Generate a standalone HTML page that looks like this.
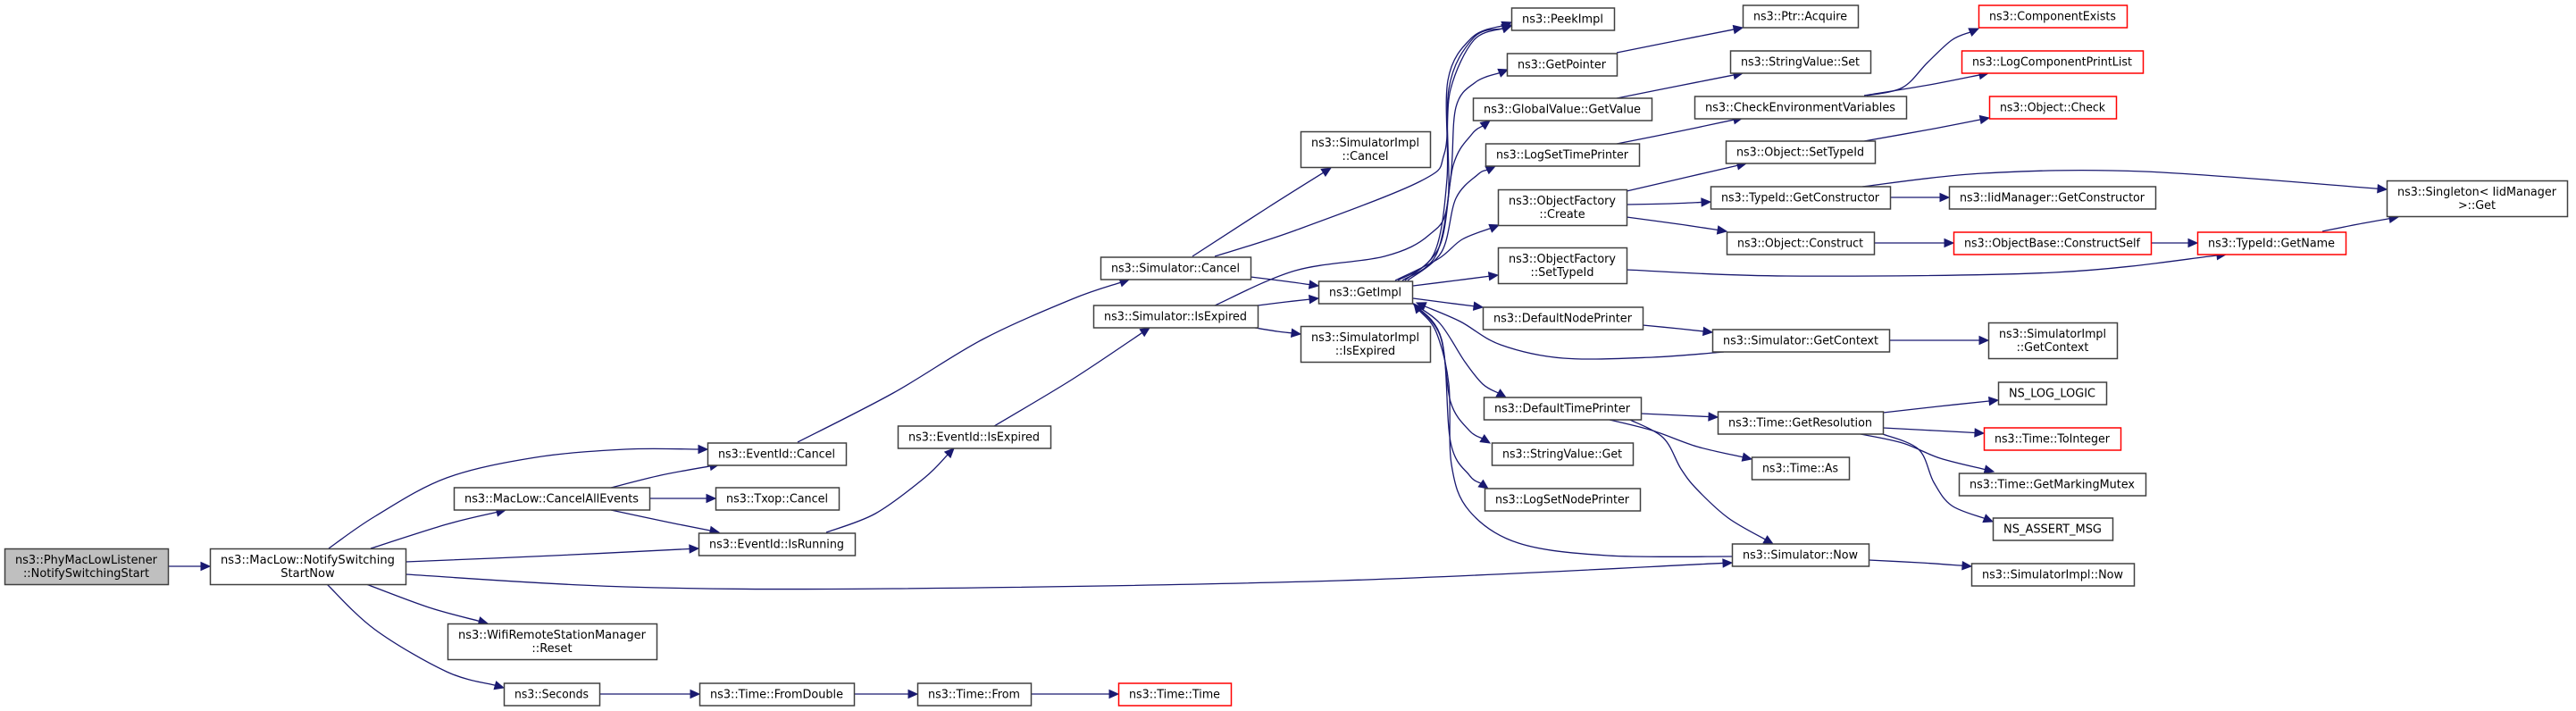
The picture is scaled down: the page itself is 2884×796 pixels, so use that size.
<!DOCTYPE html>
<html><head><meta charset="utf-8"><style>
html,body{margin:0;padding:0;background:#fff;}
svg{display:block;}
text{font-family:"DejaVu Sans","Liberation Sans",sans-serif;font-size:13px;fill:#000;}
</style></head><body>
<svg id="g" xmlns="http://www.w3.org/2000/svg" width="2884" height="796" viewBox="0 0 2884 796">
<rect width="2884" height="796" fill="#fff"/>
<g id="edges"></g><g id="nodes"></g>
</svg>
<script>
var N={
PhyMacLow:[5,188,634,["ns3::PhyMacLowListener","::NotifySwitchingStart"],'g'],
Notify:[235,454,634,["ns3::MacLow::NotifySwitching","StartNow"]],
EvCancel:[792,947,508,["ns3::EventId::Cancel"]],
CancelAll:[508,727,558,["ns3::MacLow::CancelAllEvents"]],
Txop:[801,939,558,["ns3::Txop::Cancel"]],
IsRunning:[782,957,609,["ns3::EventId::IsRunning"]],
WifiReset:[501,735,718,["ns3::WifiRemoteStationManager","::Reset"]],
Seconds:[564,671,777,["ns3::Seconds"]],
EvIsExpired:[1005,1176,489,["ns3::EventId::IsExpired"]],
FromDouble:[783,956,777,["ns3::Time::FromDouble"]],
SimCancel:[1232,1400,300,["ns3::Simulator::Cancel"]],
SimIsExpired:[1224,1408,354,["ns3::Simulator::IsExpired"]],
TimeFrom:[1027,1154,777,["ns3::Time::From"]],
TimeTime:[1252,1378,777,["ns3::Time::Time"],'r'],
SimImplCancel:[1456,1601,167,["ns3::SimulatorImpl","::Cancel"]],
SimImplIsExpired:[1456,1601,385,["ns3::SimulatorImpl","::IsExpired"]],
GetImpl:[1476,1581,327,["ns3::GetImpl"]],
PeekImpl:[1692,1807,21,["ns3::PeekImpl"]],
GetPointer:[1687,1810,72,["ns3::GetPointer"]],
GlobalGetValue:[1649,1849,122,["ns3::GlobalValue::GetValue"]],
LogSetTimePrinter:[1663,1835,173,["ns3::LogSetTimePrinter"]],
OFCreate:[1677,1821,232,["ns3::ObjectFactory","::Create"]],
OFSetTypeId:[1677,1821,297,["ns3::ObjectFactory","::SetTypeId"]],
DefNodePrinter:[1660,1839,356,["ns3::DefaultNodePrinter"]],
DefTimePrinter:[1661,1837,457,["ns3::DefaultTimePrinter"]],
SVGet:[1670,1828,508,["ns3::StringValue::Get"]],
LogSetNodePrinter:[1662,1836,559,["ns3::LogSetNodePrinter"]],
PtrAcquire:[1951,2080,18,["ns3::Ptr::Acquire"]],
SVSet:[1937,2094,69,["ns3::StringValue::Set"]],
CheckEnv:[1897,2134,120,["ns3::CheckEnvironmentVariables"]],
ObjSetTypeId:[1932,2099,170,["ns3::Object::SetTypeId"]],
TIGetCtor:[1915,2116,221,["ns3::TypeId::GetConstructor"]],
ObjConstruct:[1933,2098,272,["ns3::Object::Construct"]],
SimGetContext:[1917,2115,381,["ns3::Simulator::GetContext"]],
TimeGetRes:[1923,2108,473,["ns3::Time::GetResolution"]],
TimeAs:[1961,2070,524,["ns3::Time::As"]],
SimNow:[1939,2092,621,["ns3::Simulator::Now"]],
ComponentExists:[2215,2381,18,["ns3::ComponentExists"],'r'],
LogCompPrint:[2196,2399,69,["ns3::LogComponentPrintList"],'r'],
ObjCheck:[2227,2369,120,["ns3::Object::Check"],'r'],
Singleton:[2672,2874,222,["ns3::Singleton< IidManager"," >::Get"]],
IidGetCtor:[2182,2413,221,["ns3::IidManager::GetConstructor"]],
ConstructSelf:[2187,2408,272,["ns3::ObjectBase::ConstructSelf"],'r'],
TIGetName:[2460,2626,272,["ns3::TypeId::GetName"],'r'],
SimImplGetContext:[2226,2370,381,["ns3::SimulatorImpl","::GetContext"]],
NSLOGLOGIC:[2237,2358,440,["NS_LOG_LOGIC"]],
ToInteger:[2221,2374,491,["ns3::Time::ToInteger"],'r'],
MarkingMutex:[2193,2402,542,["ns3::Time::GetMarkingMutex"]],
NSASSERT:[2231,2365,592,["NS_ASSERT_MSG"]],
SimImplNow:[2207,2389,643,["ns3::SimulatorImpl::Now"]]
};
function box(k){var n=N[k],h=n[3].length>1?40:25;return {x1:n[0],x2:n[1],cy:n[2],t:n[2]-h/2,b:n[2]+h/2,h:h};}
var E=[
['PhyMacLow','Notify'],
['Notify','EvCancel',[[368,614],[420,578],[500,535],[600,512],[700,503],[792,503]]],
['Notify','CancelAll',[[415,614],[500,587],[566,571]]],
['Notify','IsRunning',[[454,629],[620,622],[782,614]]],
['Notify','SimNow',[[454,643],[700,657],[1000,659],[1500,650],[1939,630]]],
['Notify','WifiReset',[[410,654],[480,680],[546,698]]],
['Notify','Seconds',[[366,654],[420,705],[500,752],[564,770]]],
['CancelAll','EvCancel',[[684,546],[740,532],[805,520]]],
['CancelAll','Txop'],
['CancelAll','IsRunning',[[684,571],[745,584],[805,596]]],
['EvCancel','SimCancel',[[893,495],[1000,440],[1100,380],[1200,335],[1264,313]]],
['IsRunning','EvIsExpired',[[925,596],[980,575],[1035,535],[1068,502]]],
['EvIsExpired','SimIsExpired',[[1113,477],[1200,425],[1287,367]]],
['Seconds','FromDouble'],['FromDouble','TimeFrom'],['TimeFrom','TimeTime'],
['SimCancel','SimImplCancel',[[1335,287],[1420,232],[1490,188]]],
['SimCancel','PeekImpl',[[1360,287],[1450,258],[1590,203],[1617,172],[1624,100],[1650,45],[1692,28]]],
['SimCancel','GetImpl',[[1400,310],[1440,315],[1476,320]]],
['SimIsExpired','PeekImpl',[[1360,342],[1450,303],[1550,287],[1600,263],[1621,225],[1622,100],[1650,42],[1692,29]]],
['SimIsExpired','GetImpl',[[1408,342],[1440,338],[1476,334]]],
['SimIsExpired','SimImplIsExpired',[[1405,367],[1430,371],[1456,374]]],
['GetImpl','PeekImpl',[[1565,314],[1605,285],[1620,200],[1621,90],[1648,42],[1692,25]]],
['GetImpl','GetPointer',[[1570,314],[1608,285],[1624,200],[1630,120],[1652,92],[1688,78]]],
['GetImpl','GlobalGetValue',[[1573,314],[1612,275],[1627,185],[1648,150],[1668,135]]],
['GetImpl','LogSetTimePrinter',[[1576,314],[1614,282],[1630,222],[1655,195],[1674,186]]],
['GetImpl','OFCreate',[[1562,314],[1610,290],[1637,268],[1678,252]]],
['GetImpl','OFSetTypeId',[[1582,320],[1630,314],[1677,308]]],
['GetImpl','DefNodePrinter',[[1582,334],[1620,339],[1660,344]]],
['GetImpl','DefTimePrinter',[[1582,340],[1612,362],[1640,405],[1660,430],[1686,445]]],
['GetImpl','SVGet',[[1582,340],[1612,375],[1624,450],[1645,482],[1668,496]]],
['GetImpl','LogSetNodePrinter',[[1582,340],[1614,380],[1624,495],[1645,532],[1666,547]]],
['GetPointer','PtrAcquire',[[1810,59],[1880,45],[1951,31]]],
['GlobalGetValue','SVSet',[[1810,110],[1880,96],[1951,82]]],
['LogSetTimePrinter','CheckEnv',[[1810,161],[1880,147],[1951,132]]],
['CheckEnv','ComponentExists',[[2090,107],[2130,98],[2158,70],[2185,45],[2215,32]]],
['CheckEnv','LogCompPrint',[[2087,107],[2160,95],[2226,82]]],
['ObjSetTypeId','ObjCheck',[[2087,158],[2160,145],[2227,132]]],
['OFCreate','ObjSetTypeId',[[1821,214],[1890,198],[1955,183]]],
['OFCreate','TIGetCtor',[[1821,229],[1870,228],[1915,226]]],
['OFCreate','ObjConstruct',[[1821,243],[1880,251],[1933,259]]],
['TIGetCtor','IidGetCtor'],
['TIGetCtor','Singleton',[[2085,209],[2220,194],[2400,192],[2672,212]]],
['ObjConstruct','ConstructSelf'],['ConstructSelf','TIGetName'],
['TIGetName','Singleton',[[2600,259],[2640,251],[2685,243]]],
['OFSetTypeId','TIGetName',[[1821,302],[2000,309],[2300,305],[2492,285]]],
['DefNodePrinter','SimGetContext',[[1839,364],[1880,368],[1917,372]]],
['SimGetContext','SimImplGetContext'],
['SimGetContext','GetImpl',[[1930,394],[1850,400],[1750,401],[1680,386],[1635,360],[1586,339]]],
['DefTimePrinter','TimeGetRes',[[1837,463],[1880,465],[1923,467]]],
['DefTimePrinter','TimeAs',[[1802,470],[1850,482],[1900,500],[1961,514]]],
['DefTimePrinter','SimNow',[[1825,470],[1862,490],[1882,525],[1900,548],[1935,580],[1985,609]]],
['TimeGetRes','NSLOGLOGIC',[[2108,462],[2170,455],[2237,448]]],
['TimeGetRes','ToInteger',[[2108,479],[2165,482],[2221,485]]],
['TimeGetRes','MarkingMutex',[[2083,486],[2130,496],[2172,513],[2232,528]]],
['TimeGetRes','NSASSERT',[[2108,486],[2148,503],[2165,540],[2185,566],[2231,584]]],
['SimNow','GetImpl',[[1939,623],[1800,622],[1700,608],[1645,572],[1625,520],[1622,430],[1608,372],[1583,340]]],
['SimNow','SimImplNow',[[2092,627],[2150,630],[2207,634]]]
];
var NS="http://www.w3.org/2000/svg",eg=document.getElementById('edges'),ng=document.getElementById('nodes');
function el(t,a,p){var e=document.createElementNS(NS,t);for(var k in a)e.setAttribute(k,a[k]);p.appendChild(e);return e;}
function norm(v){var l=Math.hypot(v[0],v[1]);return [v[0]/l,v[1]/l];}
function arrow(tip,dir){
 var te=[tip[0]-dir[0]*10,tip[1]-dir[1]*10],px=-dir[1],py=dir[0];
 el('polygon',{points:[tip,[te[0]+px*4.5,te[1]+py*4.5],[te[0]-px*4.5,te[1]-py*4.5]].map(String).join(' '),fill:'#191970',stroke:'#191970'},eg);
 return te;
}
E.forEach(function(e){
 var a=box(e[0]),b=box(e[1]),P;
 if(e[2]){P=e[2].map(function(p){return p.slice();});}
 else{var y=(Math.max(a.t,b.t)+Math.min(a.b,b.b))/2;P=[[a.x2,y],[(a.x2+b.x1)/2,y],[b.x1,y]];}
 var n=P.length,tip=P[n-1],dir=norm([tip[0]-P[n-2][0],tip[1]-P[n-2][1]]);
 var te=arrow(tip,dir);P[n-1]=te;
 var d='M'+P[0];
 for(var i=0;i<n-1;i++){
  var p0=P[Math.max(0,i-1)],p1=P[i],p2=P[i+1],p3=P[Math.min(n-1,i+2)];
  var c1=[p1[0]+(p2[0]-p0[0])/6,p1[1]+(p2[1]-p0[1])/6];
  var c2=[p2[0]-(p3[0]-p1[0])/6,p2[1]-(p3[1]-p1[1])/6];
  d+=' C'+c1+' '+c2+' '+p2;
 }
 el('path',{d:d,fill:'none',stroke:'#191970','stroke-width':1.3},eg);
});
for(var k in N){
 var n=N[k],b=box(k);
 el('rect',{x:b.x1+0.5,y:b.t+0.5,width:b.x2-b.x1,height:b.h,fill:n[4]=='g'?'#bfbfbf':'#fff',stroke:n[4]=='r'?'#ff0000':'#404040','stroke-width':1.5},ng);
 var L=n[3],ts=[];
 L.forEach(function(s,i){
  var y=L.length>1?b.cy-7.5+i*15+4.5:b.cy+4.5;
  var t=el('text',{x:(b.x1+b.x2)/2,y:y,'text-anchor':'middle'},ng);t.textContent=s;ts.push(t);
 });
 var ml=0;ts.forEach(function(t){ml=Math.max(ml,t.getComputedTextLength());});
 var sc=(b.x2-b.x1-24)/ml;
 ts.forEach(function(t){var l=t.getComputedTextLength();t.setAttribute('textLength',l*sc);t.setAttribute('lengthAdjust','spacingAndGlyphs');});
}
</script>
</body></html>
